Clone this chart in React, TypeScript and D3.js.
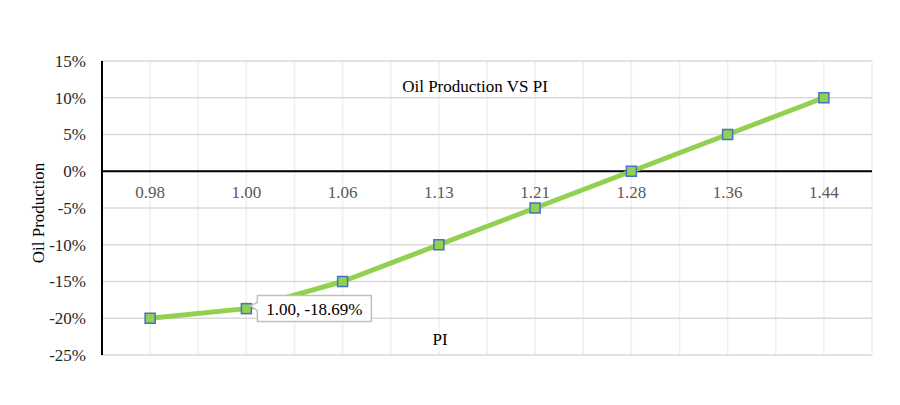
import React from 'react';
import * as d3 from 'd3';

const categories = ['0.98', '1.00', '1.06', '1.13', '1.21', '1.28', '1.36', '1.44'];
const values = [-0.2, -0.1869, -0.15, -0.1, -0.05, 0, 0.05, 0.1];
const yTicks = [-0.25, -0.2, -0.15, -0.1, -0.05, 0, 0.05, 0.1, 0.15];

const FONT = '"Liberation Serif", "DejaVu Serif", serif';

// Excel uses a plain hyphen for negatives
const hyph = (s: string) => s.replace('\u2212', '-');

export default function App() {
  const W = 900;
  const H = 405;
  const left = 102;
  const right = 872;
  const top = 61;
  const bottom = 355;

  const x = d3.scaleBand<string>().domain(categories).range([left, right]);
  const y = d3.scaleLinear().domain([-0.25, 0.15]).range([bottom, top]);
  const cx = (c: string) => (x(c) as number) + x.bandwidth() / 2;

  const line = d3
    .line<number>()
    .x((_, i) => cx(categories[i]))
    .y((d) => y(d));

  const fmt = d3.format('.0%');
  const vLines: number[] = [];
  categories.forEach((c) => {
    vLines.push(x(c) as number);
    vLines.push(cx(c));
  });
  vLines.push(right);

  // data label for 1.00
  const lx = cx(categories[1]);
  const ly = y(values[1]);

  return (
    <svg width={W} height={H} style={{ position: 'absolute', left: 0, top: 0 }}>
      <rect width={W} height={H} fill="#fff" />
      {vLines.slice(1).map((v, i) => (
        <line key={'v' + i} x1={v} x2={v} y1={top} y2={bottom} stroke="#efefef" strokeWidth={1.5} />
      ))}
      {yTicks.map((t) => (
        <line key={'h' + t} x1={left} x2={right} y1={y(t)} y2={y(t)} stroke="#d9d9d9" strokeWidth={1.5} />
      ))}
      {yTicks.map((t) => (
        <text
          key={'t' + t}
          x={86}
          y={y(t)}
          dy="0.35em"
          textAnchor="end"
          fontFamily={FONT}
          fontSize={17}
          fill="#262626"
        >
          {hyph(fmt(t))}
        </text>
      ))}
      <line x1={left} x2={right} y1={y(0)} y2={y(0)} stroke="#000" strokeWidth={2} />
      <line x1={left} x2={left} y1={top} y2={bottom} stroke="#000" strokeWidth={2} />
      {categories.map((c) => (
        <text
          key={'c' + c}
          x={cx(c)}
          y={y(0) + 27}
          textAnchor="middle"
          fontFamily={FONT}
          fontSize={17}
          fill="#595959"
        >
          {c}
        </text>
      ))}
      <text x={475} y={92} textAnchor="middle" fontFamily={FONT} fontSize={17} fill="#000">
        Oil Production VS PI
      </text>
      <text x={440} y={345} textAnchor="middle" fontFamily={FONT} fontSize={17} fill="#000">
        PI
      </text>
      <text
        transform={`translate(44,${(top + bottom) / 2 + 5}) rotate(-90)`}
        textAnchor="middle"
        fontFamily={FONT}
        fontSize={17}
        fill="#000"
      >
        Oil Production
      </text>
      <path d={line(values) || ''} fill="none" stroke="#92d050" strokeWidth={5} strokeLinejoin="round" />
      {values.map((v, i) => (
        <rect
          key={'m' + i}
          x={cx(categories[i]) - 5}
          y={y(v) - 5}
          width={10}
          height={10}
          fill="#92d050"
          stroke="#4472c4"
          strokeWidth={1.5}
        />
      ))}
      <path
        d={`M${lx + 11},${ly - 13} H${lx + 125} V${ly + 13} H${lx + 11} V${ly + 2} L${lx + 4},${ly - 3} L${lx + 11},${ly - 6} Z`}
        fill="#fff"
        stroke="#bfbfbf"
        strokeWidth={1.5}
      />
      <text x={lx + 68} y={ly} dy="0.35em" textAnchor="middle" fontFamily={FONT} fontSize={17} fill="#000">
        {categories[1]}, {hyph(d3.format('.2%')(values[1]))}
      </text>
    </svg>
  );
}
